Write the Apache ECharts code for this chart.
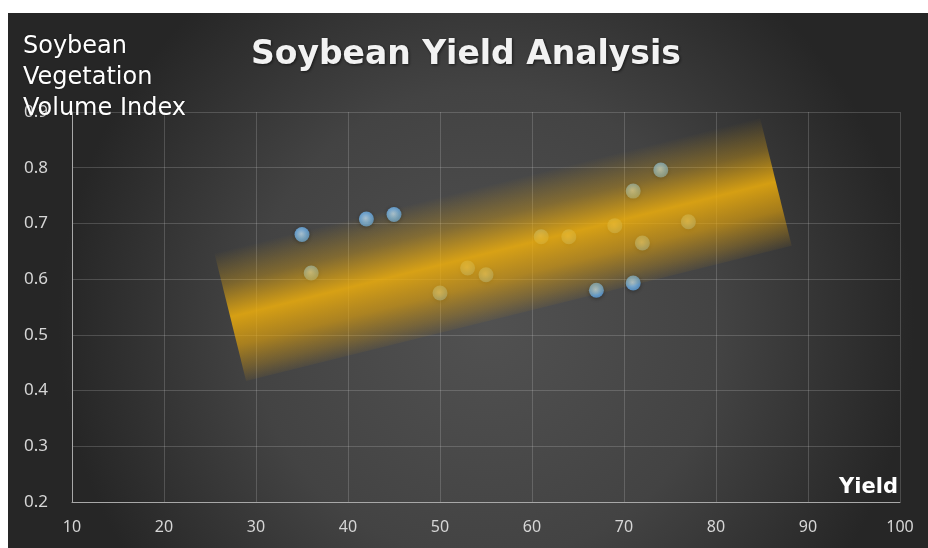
<!DOCTYPE html>
<html>
<head>
<meta charset="utf-8">
<script src="https://cdn.jsdelivr.net/npm/echarts@6/dist/echarts.min.js"></script>
<style>
  html, body { margin: 0; padding: 0; background: #ffffff; }
  #chart { position: absolute; left: 8px; top: 13px; width: 920px; height: 535px; }
</style>
</head>
<body>
<div id="chart"></div>
<script>
// Yield (x) and vegetation volume index (y) for each plot
const yieldValues = [35, 42, 45, 67, 71, 36, 50, 53, 55, 61, 64, 69, 71, 72, 74, 77];
const vviValues   = [0.68, 0.708, 0.716, 0.58, 0.593, 0.611, 0.575, 0.62, 0.608, 0.676, 0.676, 0.696, 0.758, 0.665, 0.796, 0.703];

// Highlighted trend band: start and end of its centre line
const trendYield = [27.2, 86.5];
const trendVvi   = [0.532, 0.775];

// Axis ticks
const xTicks = [10, 20, 30, 40, 50, 60, 70, 80, 90, 100];
const yTicks = [0.2, 0.3, 0.4, 0.5, 0.6, 0.7, 0.8, 0.9];

const points = yieldValues.map((x, i) => [x, vviValues[i]]);
const trendData = [[trendYield[0], trendVvi[0], trendYield[1], trendVvi[1]]];

const chart = echarts.init(document.getElementById('chart'));

const gridColor = 'rgba(210,210,210,0.22)';
const labelColor = '#d6d6d6';

function renderBand(params, api) {
  const p0 = api.coord([api.value(0), api.value(1)]);
  const p1 = api.coord([api.value(2), api.value(3)]);
  const dx = p1[0] - p0[0], dy = p1[1] - p0[1];
  const len = Math.sqrt(dx * dx + dy * dy);
  // unit normal pointing downwards on screen
  let nx = -dy / len, ny = dx / len;
  if (ny < 0) { nx = -nx; ny = -ny; }
  const hw = 66;
  const mx = (p0[0] + p1[0]) / 2, my = (p0[1] + p1[1]) / 2;
  const pts = [
    [p0[0] - nx * hw, p0[1] - ny * hw],
    [p1[0] - nx * hw, p1[1] - ny * hw],
    [p1[0] + nx * hw, p1[1] + ny * hw],
    [p0[0] + nx * hw, p0[1] + ny * hw]
  ];
  return {
    type: 'polygon',
    shape: { points: pts },
    style: {
      fill: new echarts.graphic.LinearGradient(
        mx - nx * hw, my - ny * hw, mx + nx * hw, my + ny * hw,
        [
          { offset: 0.0, color: 'rgba(240,175,10,0.0)' },
          { offset: 0.25, color: 'rgba(235,170,10,0.35)' },
          { offset: 0.5, color: 'rgba(240,176,12,0.85)' },
          { offset: 0.72, color: 'rgba(232,166,10,0.62)' },
          { offset: 0.9, color: 'rgba(225,160,10,0.28)' },
          { offset: 1.0, color: 'rgba(220,155,10,0.06)' }
        ], true)
    }
  };
}

const option = {
  backgroundColor: new echarts.graphic.RadialGradient(0.52, 0.58, 0.8, [
    { offset: 0, color: '#515151' },
    { offset: 0.55, color: '#434343' },
    { offset: 1, color: '#262626' }
  ]),
  animation: false,
  title: {
    text: 'Soybean Yield Analysis',
    left: 238,
    top: 21,
    textStyle: {
      fontFamily: 'DejaVu Sans',
      fontWeight: 'bold',
      fontSize: 33,
      color: '#f2f2f2',
      textShadowColor: 'rgba(0,0,0,0.6)',
      textShadowBlur: 3,
      textShadowOffsetX: 1,
      textShadowOffsetY: 1
    }
  },
  grid: { left: 64, right: 28, top: 99, bottom: 46 },
  xAxis: {
    type: 'value',
    min: xTicks[0],
    max: xTicks[xTicks.length - 1],
    interval: 10,
    name: 'Yield',
    nameLocation: 'end',
    nameGap: 0,
    nameTextStyle: {
      fontFamily: 'DejaVu Sans',
      fontWeight: 'bold',
      fontSize: 21,
      color: '#ffffff',
      align: 'right',
      verticalAlign: 'bottom',
      padding: [0, 2, 4, 0]
    },
    axisLine: { show: true, lineStyle: { color: '#a8a8a8', width: 1 } },
    axisTick: { show: false },
    axisLabel: { color: labelColor, fontFamily: 'Noto Sans', fontSize: 16, margin: 17 },
    splitLine: { show: true, lineStyle: { color: gridColor, width: 1 } }
  },
  yAxis: {
    type: 'value',
    min: yTicks[0],
    max: yTicks[yTicks.length - 1],
    interval: 0.1,
    axisLine: { show: true, lineStyle: { color: '#a8a8a8', width: 1 } },
    axisTick: { show: false },
    axisLabel: {
      color: labelColor, fontFamily: 'Noto Sans', fontSize: 17, margin: 24,
      formatter: v => v.toFixed(1)
    },
    splitLine: { show: true, lineStyle: { color: gridColor, width: 1 } }
  },
  graphic: [{
    type: 'text',
    left: 15,
    top: 18,
    z: 100,
    style: {
      text: 'Soybean\nVegetation\nVolume Index',
      font: '24px "DejaVu Sans"',
      lineHeight: 31,
      fill: '#ffffff',
      textShadowColor: 'rgba(0,0,0,0.5)',
      textShadowBlur: 2
    }
  }],
  series: [
    {
      type: 'scatter',
      data: points,
      symbolSize: 15,
      z: 2,
      itemStyle: {
        color: new echarts.graphic.RadialGradient(0.45, 0.45, 0.6, [
          { offset: 0, color: '#c4e4fb' },
          { offset: 0.55, color: '#7dbcef' },
          { offset: 1, color: '#5598d6' }
        ]),
        shadowColor: 'rgba(0,0,0,0.45)',
        shadowBlur: 4,
        shadowOffsetY: 1
      }
    },
    {
      type: 'custom',
      data: trendData,
      renderItem: renderBand,
      z: 3,
      silent: true,
      clip: true
    }
  ]
};

chart.setOption(option);
</script>
</body>
</html>
